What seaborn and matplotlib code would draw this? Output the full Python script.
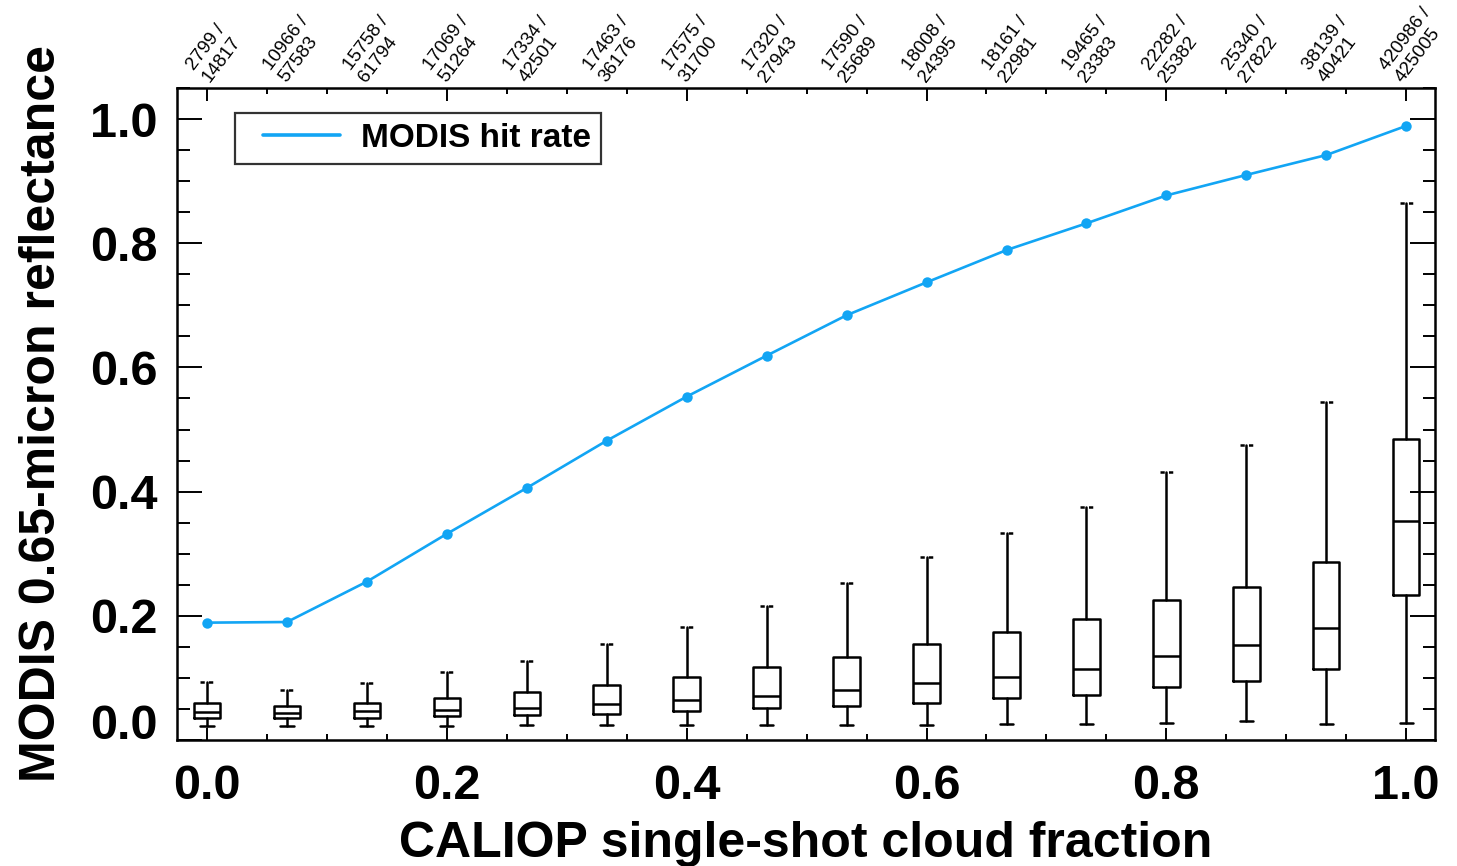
import numpy as np
import matplotlib
matplotlib.use("Agg")
import matplotlib.pyplot as plt
from matplotlib.lines import Line2D
from matplotlib.legend_handler import HandlerLine2D
from matplotlib.ticker import MultipleLocator, FuncFormatter
import seaborn as sns

# ---------------- data ----------------
cloud_fraction = [0.0, 0.0667, 0.1333, 0.2, 0.2667, 0.3333, 0.4, 0.4667,
                  0.5333, 0.6, 0.6667, 0.7333, 0.8, 0.8667, 0.9333, 1.0]
hit_rate = [0.189, 0.190, 0.255, 0.332, 0.406, 0.482, 0.553, 0.619,
            0.684, 0.737, 0.789, 0.832, 0.877, 0.910, 0.942, 0.989]

whisker_low = [0.022, 0.023, 0.023, 0.023, 0.024, 0.024, 0.024, 0.024,
               0.024, 0.024, 0.025, 0.026, 0.028, 0.030, 0.026, 0.028]
q1 = [0.035, 0.035, 0.036, 0.038, 0.040, 0.042, 0.046, 0.051,
      0.054, 0.060, 0.067, 0.072, 0.086, 0.095, 0.115, 0.234]
median = [0.045, 0.044, 0.047, 0.049, 0.052, 0.058, 0.065, 0.071,
          0.081, 0.091, 0.102, 0.115, 0.135, 0.153, 0.180, 0.352]
q3 = [0.059, 0.054, 0.060, 0.068, 0.077, 0.088, 0.102, 0.117,
      0.134, 0.154, 0.174, 0.195, 0.225, 0.247, 0.286, 0.485]
whisker_high = [0.094, 0.081, 0.092, 0.110, 0.128, 0.154, 0.182, 0.215,
                0.253, 0.295, 0.334, 0.376, 0.432, 0.475, 0.545, 0.864]

hits = ["2799", "10966", "15758", "17069", "17334", "17463", "17575", "17320",
        "17590", "18008", "18161", "19465", "22282", "25340", "38139", "420986"]
totals = ["14817", "57583", "61794", "51264", "42501", "36176", "31700", "27943",
          "25689", "24395", "22981", "23383", "25382", "27822", "40421", "425005"]

x_label = "CALIOP single-shot cloud fraction"
y_label = "MODIS 0.65-micron reflectance"
legend_label = "MODIS hit rate"

# ---------------- style ----------------
sns.set_style("ticks")
plt.rcParams["font.family"] = ["Liberation Sans", "DejaVu Sans"]
plt.rcParams["font.weight"] = "bold"
for key in ["text.color", "axes.labelcolor", "xtick.color", "ytick.color",
            "axes.edgecolor"]:
    plt.rcParams[key] = "black"

blue = "#12a5f4"
W, H = 1457, 866
fig = plt.figure(figsize=(W / 100, H / 100), dpi=100)
ax = fig.add_axes([177 / W, 1 - 740 / H, (1435 - 177) / W, (740 - 88) / H])

# boxes from summary statistics
stats = []
for i in range(len(cloud_fraction)):
    stats.append(dict(whislo=whisker_low[i], q1=q1[i], med=median[i],
                      q3=q3[i], whishi=whisker_high[i], fliers=[]))
lw = 1.8
art = ax.bxp(stats, positions=cloud_fraction, widths=0.022, capwidths=0.011,
             showfliers=False, patch_artist=False, manage_ticks=False,
             boxprops=dict(color="black", linewidth=lw),
             whiskerprops=dict(color="black", linewidth=lw),
             capprops=dict(color="black", linewidth=lw),
             medianprops=dict(color="black", linewidth=lw))
for cap in art["caps"][1::2]:
    cap.set_linestyle((0, (1.7, 1.7)))
    cap.set_dash_capstyle("butt")

# hit rate line
sns.lineplot(x=cloud_fraction, y=hit_rate, ax=ax, color=blue, linewidth=1.9,
             marker="o", markersize=7.5, markeredgewidth=0, legend=False,
             zorder=5)

ax.set_xlim(-0.025, 1.024)
ax.set_ylim(0.0, 1.05)

ax.xaxis.set_major_locator(MultipleLocator(0.2))
ax.xaxis.set_minor_locator(MultipleLocator(0.05))
ax.yaxis.set_major_locator(MultipleLocator(0.2))
ax.yaxis.set_minor_locator(MultipleLocator(0.05))
ax.xaxis.set_major_formatter(FuncFormatter(lambda v, p: f"{v:.1f}"))
ax.yaxis.set_major_formatter(FuncFormatter(lambda v, p: "" if abs(v) < 1e-9 else f"{v:.1f}"))

ax.tick_params(axis="x", which="major", direction="in", length=9, width=1.4,
               top=True, bottom=True, labelsize=35, pad=17)
ax.tick_params(axis="x", which="minor", direction="in", length=4.5, width=1.4,
               top=True, bottom=True)
ax.tick_params(axis="y", which="major", direction="in", length=18, width=1.4,
               left=True, right=True, labelsize=35, pad=14)
ax.tick_params(axis="y", which="minor", direction="in", length=9, width=1.4,
               left=True, right=True)
for lab in ax.get_xticklabels() + ax.get_yticklabels():
    lab.set_fontweight("bold")
# the lowest y tick label sits on top of the axis line, as in the original
ax.annotate("0.0", xy=(0, 0.0), xycoords=("axes fraction", "data"),
            xytext=(-14, 1), textcoords="offset points", ha="right",
            va="baseline", fontsize=35, fontweight="bold")
for s in ax.spines.values():
    s.set_linewidth(1.8)
    s.set_color("black")

ax.set_xlabel(x_label, fontsize=36, fontweight="bold", labelpad=9)
ax.set_ylabel(y_label, fontsize=36, fontweight="bold", labelpad=18)

# top count labels
for xc, h, t in zip(cloud_fraction, hits, totals):
    ax.annotate(f"{h} /\n{t}", xy=(xc, 1.0), xycoords=("data", "axes fraction"),
                xytext=(5, 2), textcoords="offset points", rotation=53,
                ha="center", va="bottom", fontsize=13.5, fontweight="normal",
                multialignment="left", linespacing=1.2)

handle = Line2D([], [], color=blue, linewidth=2.6)
leg = ax.legend([handle], [legend_label], loc="upper left",
                bbox_to_anchor=(0.046, 0.962), borderaxespad=0,
                frameon=True, fancybox=False, edgecolor="black",
                prop=dict(size=24, weight="bold"), handlelength=2.85,
                handletextpad=0.63, borderpad=0.3,
                handler_map={handle: HandlerLine2D(xpad=0.54)})
leg.get_frame().set_linewidth(1.6)

fig.savefig("out.png", dpi=100)
